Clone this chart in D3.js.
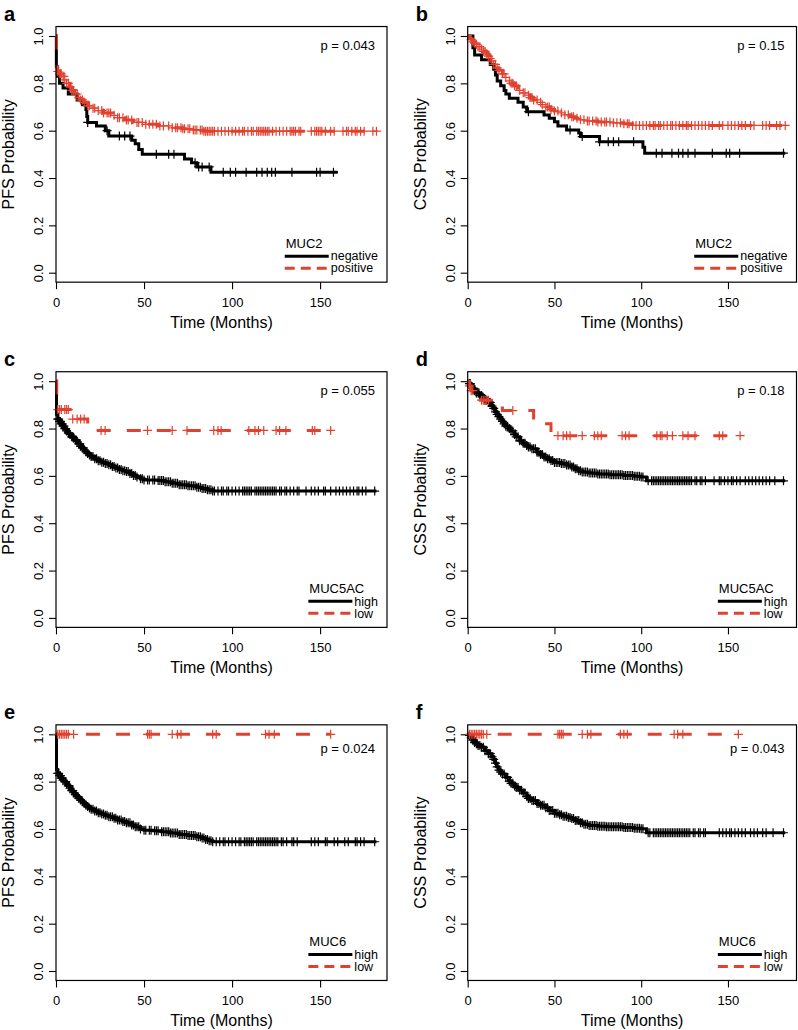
<!DOCTYPE html>
<html>
<head>
<meta charset="utf-8">
<script src="https://cdn.jsdelivr.net/npm/d3@7"></script>
<style>
  body { margin: 0; background: #fff; }
  svg text { font-family: "Liberation Sans", Arial, sans-serif; fill: #000; }
</style>
</head>
<body>
<div id="chart"></div>
<script>
// Data: KM steps as [month, survival], censor marks as months
var panelLabels = ["a", "b", "c", "d", "e", "f"];
var yTitles = ["PFS Probability", "CSS Probability", "PFS Probability", "CSS Probability", "PFS Probability", "CSS Probability"];
var markerNames = ["MUC2", "MUC2", "MUC5AC", "MUC5AC", "MUC6", "MUC6"];
var groupNames = [["negative", "positive"], ["negative", "positive"], ["high", "low"], ["high", "low"], ["high", "low"], ["high", "low"]];
var pValues = ["p = 0.043", "p = 0.15", "p = 0.055", "p = 0.18", "p = 0.024", "p = 0.043"];
var xTicks = [0, 50, 100, 150];
var yTicks = [0, 0.2, 0.4, 0.6, 0.8, 1.0];

// a: PFS by MUC2
var aBlack = [[0,1],[0.2,0.87],[0.8,0.83],[2,0.80],[4,0.78],[7,0.755],[12,0.73],[15,0.71],[17,0.69],[17.5,0.66],[18,0.635],[23,0.62],[28,0.60],[30,0.577],[43,0.56],[45,0.545],[47,0.52],[49,0.50],[73,0.48],[77,0.465],[80,0.447],[88,0.424],[160,0.424]];
var aBlackCens = [18,29,36,39,42,57,64,67,79,81,83,87,95,99,102,108,114,117,120,122.5,124.6,134,148,150,157.6];
var aRed = [[0,1],[0.3,0.87],[1,0.85],[2,0.84],[4,0.83],[5,0.815],[6,0.80],[8,0.785],[9,0.77],[11,0.755],[13,0.74],[14,0.73],[16,0.72],[18,0.705],[20,0.695],[23,0.685],[27,0.675],[32,0.665],[35,0.655],[39,0.645],[44,0.635],[50,0.627],[58,0.62],[65,0.612],[72,0.608],[78,0.603],[84,0.598],[182,0.598]];
var aRedCens = [1,2,2.5,3,4,4.5,5,6,7,8,9,10,11,12,13,14,15,16,18,19,21,22,24,26,27,29,30,31,33,35,36,38,40,41,43,46,47,49,51,53,55,57,59,61,64,66,68,69,71,72,73,75,76,78,79,80,82,83,84,85,86,87,88,89,90,92,94,96,98,100,102,104,106,107,109,111,112,114,115,116,117,118,119,120,121,123,125,127,129,131,133,134,135,136,138,139,145,147,148,149,150,151,153,156,158,163,165,166,168,170,171,173,175,180,182];

// b: CSS by MUC2
var bBlack = [[0,1],[3,0.95],[4,0.92],[8,0.90],[13,0.88],[15,0.86],[16,0.835],[17,0.81],[19,0.79],[21,0.77],[22,0.755],[24,0.737],[29,0.72],[32,0.70],[34,0.68],[44,0.666],[47,0.652],[50,0.638],[52,0.62],[57,0.603],[64,0.59],[65,0.575],[76,0.553],[101,0.53],[102,0.505],[183,0.505]];
var bBlackCens = [35,59,66,76,81,84,87,95.6,108.7,112,117.7,121.5,124,127,131,141,149,151,156.7,182];
var bRed = [[0,1],[1,0.99],[2,0.985],[3,0.975],[4,0.97],[5,0.965],[6,0.955],[8,0.945],[9,0.935],[11,0.925],[12,0.915],[13,0.905],[14,0.895],[15,0.88],[17,0.865],[18,0.855],[20,0.84],[22,0.825],[24,0.81],[25,0.80],[27,0.79],[29,0.78],[30,0.77],[32,0.76],[34,0.75],[36,0.74],[38,0.73],[41,0.72],[43,0.71],[45,0.70],[48,0.69],[50,0.683],[53,0.675],[56,0.667],[59,0.659],[62,0.652],[65,0.646],[68,0.641],[75,0.637],[84,0.633],[90,0.629],[95,0.622],[183,0.622]];
var bRedCens = [2,3,4,5,6,7,8,9,10,11,12,13,14,15,16,17,18,20,21,22,24,25,26,27,28,30,32,33,35,36,37,38,40,42,43,45,46,47,48,50,52,54,56,58,60,61,63,65,67,69,70,72,74,75,77,79,80,82,84,86,88,90,92,93,95,97,99,101,103,105,107,108,110,111,113,115,117,118,120,122,124,126,127,129,131,133,135,137,139,141,145,147,150,152,154,156,158,160,163,165,170,172,174,178,180,183];

// c: PFS by MUC5AC
var cBlack = [[0,1],[0.3,0.86],[1,0.84],[2,0.83],[3,0.82],[4,0.81],[5,0.80],[6,0.79],[7,0.78],[8,0.775],[9,0.765],[10,0.76],[11,0.752],[12,0.745],[13,0.735],[14,0.725],[15,0.718],[16,0.71],[17,0.702],[18,0.695],[19,0.688],[20,0.682],[22,0.672],[24,0.664],[26,0.658],[28,0.652],[30,0.647],[32,0.64],[34,0.633],[36,0.627],[38,0.622],[40,0.618],[42,0.61],[44,0.602],[46,0.595],[48,0.588],[50,0.583],[58,0.58],[62,0.575],[66,0.569],[70,0.563],[75,0.558],[80,0.552],[83,0.547],[86,0.541],[89,0.536],[182,0.536]];
var cBlackCens = [1,1.5,2,2.5,3,3.5,4,4.5,5,5.5,6,7,7.5,8,9,9.5,10,11,11.5,12,13,13.5,14,15,15.5,16,17,18,19,20,21,22,23,24,25,26,27,28,29,30,31,32,33,34,35,36,37,38,39,40,41,42,43,44,45,46,48,49,50,52,53,55,56,58,59,60,61,62,63,64,65,66,67,68,69,70,71,72,73,74,75,76,77,78,79,80,81,82,83,84,85,86,87,88,89,90,92,94,95,97,98,100,102,104,106,107,108,109,110,111,113,114,115,116,117,118,119,120,121,122,123,124,125,127,128,130,131,133,135,137,138,142,145,147,149,152,153,156,159,161,163,165,167,169,171,172,174,176,181];
var cRed = [[0,1],[0.4,0.88],[8,0.84],[18,0.792],[157,0.792]];
var cRedCens = [1,2,3,5,6,7,9.5,12,14,16,25.6,27.9,52,66,74.4,89.6,92,93.8,109.5,113,115,118,125,127,130.6,145.6,147,156];

// d: CSS by MUC5AC
var dBlack = [[0,1],[1,0.99],[2,0.98],[3,0.97],[4,0.96],[5,0.95],[7,0.94],[9,0.93],[10,0.92],[12,0.91],[14,0.895],[15,0.885],[16,0.87],[17,0.86],[18,0.85],[19,0.84],[20,0.83],[21,0.82],[22,0.81],[24,0.80],[25,0.79],[27,0.775],[28,0.765],[30,0.748],[32,0.738],[34,0.728],[35,0.722],[37,0.715],[40,0.70],[42,0.69],[44,0.68],[46,0.672],[48,0.665],[50,0.657],[54,0.652],[57,0.646],[60,0.638],[62,0.63],[64,0.622],[66,0.616],[70,0.612],[75,0.608],[82,0.605],[90,0.602],[96,0.598],[100,0.595],[103,0.579],[183,0.579]];
var dBlackCens = [1,1.5,2,3,3.5,4,5,6,6.5,7,8,9,10,11,12,12.5,13,14,15,16,17,18,19,20,21,22,23,24,25,26,27,28,29,30,31,32,33,34,35,36,37,38,39,40,41,42,43,44,45,46,47,48,49,50,51,52,53,54,55,56,57,58,59,60,61,62,63,64,65,66,67,68,69,70,71,72,73,74,75,76,77,78,79,80,81,82,83,84,85,86,87,88,89,90,91,92,93,94,95,96,97,98,99,100,101,104,106,107,108,109,110,111,112,113,114,115,116,117,118,119,120,121,122,123,124,125,126,127,128,129,131,132,134,135,137,142,145,146,148,150,152,153,155,157,160,162,164,166,168,170,172,174,177,182];
var dRed = [[0,1],[1,0.98],[2,0.96],[5,0.92],[20,0.876],[38,0.845],[44,0.82],[48,0.77],[157,0.77]];
var dRedCens = [1,2,3,8,9,10,11,12,26,52,55,57,59,66,73,75,77,89,91,93,109,111,112,115,118,124,127,131,145,147,157];

// e: PFS by MUC6
var eBlack = [[0,1],[0.3,0.85],[1,0.835],[2,0.825],[3,0.815],[4,0.806],[5,0.80],[6,0.79],[7,0.782],[8,0.772],[9,0.762],[10,0.753],[11,0.745],[12,0.737],[13,0.729],[14,0.722],[15,0.715],[16,0.708],[17,0.701],[18,0.695],[19,0.689],[20,0.683],[22,0.676],[24,0.669],[26,0.663],[28,0.658],[30,0.652],[33,0.645],[35,0.638],[38,0.632],[40,0.626],[43,0.617],[45,0.609],[48,0.60],[50,0.595],[55,0.592],[60,0.588],[65,0.583],[70,0.577],[75,0.572],[80,0.567],[83,0.562],[85,0.556],[87,0.55],[89,0.546],[182,0.546]];
var eBlackCens = [1,1.5,2,2.5,3,3.5,4,5,5.5,6,7,7.5,8,9,9.5,10,11,12,12.5,13,14,15,16,17,18,19,20,21,22,23,24,25,26,27,28,29,30,31,32,33,34,35,36,37,38,39,40,41,42,43,44,45,46,47,48,50,51,53,54,56,57,58,60,61,62,63,64,65,66,67,68,69,70,71,72,73,74,75,76,77,78,79,80,81,82,83,84,85,86,87,88,89,91,93,95,96,98,100,102,104,105,107,108,109,110,111,112,114,115,116,117,118,119,120,121,122,123,124,125,126,128,129,131,134,135,137,145,147,149,153,154,158,160,164,166,170,171,173,175,181];
var eRed = [[0,1],[156,1]];
var eRedCens = [1,2,3,4,5,6,7,10,52,53,54,66,69,71,89,91,119,121,124,156];

// f: CSS by MUC6
var fBlack = [[0,1],[1,0.995],[2,0.985],[3,0.975],[4,0.965],[5,0.96],[6,0.953],[8,0.945],[10,0.93],[12,0.918],[14,0.905],[15,0.894],[16,0.878],[17,0.862],[18,0.849],[19,0.84],[20,0.832],[22,0.818],[24,0.802],[25,0.793],[27,0.782],[28,0.775],[30,0.764],[32,0.752],[34,0.738],[35,0.729],[37,0.72],[40,0.708],[42,0.70],[45,0.69],[47,0.678],[50,0.666],[53,0.66],[55,0.654],[58,0.648],[60,0.644],[62,0.636],[65,0.626],[67,0.62],[70,0.615],[75,0.612],[80,0.609],[90,0.606],[96,0.603],[100,0.601],[103,0.584],[183,0.584]];
var fBlackCens = [1,2,2.5,3,4,5,5.5,6,7,8,9,10,11,12,13,14,15,16,17,18,19,20,21,22,23,24,25,26,27,28,29,30,31,32,33,34,35,36,37,38,39,40,41,42,43,44,45,46,47,48,49,50,51,52,53,54,55,56,57,58,59,60,61,62,63,64,65,66,67,68,69,70,71,72,73,74,75,76,77,78,79,80,81,82,83,84,85,86,87,88,89,90,91,92,93,94,95,96,97,98,99,100,101,104,105,107,108,109,110,111,112,113,114,115,116,117,118,119,120,121,122,123,124,125,126,127,128,130,131,133,134,136,137,145,147,149,151,152,154,156,158,160,163,165,167,170,172,176,182];
var fRed = [[0,1],[156,1]];
var fRedCens = [1,2,3,4,5,6,7,8,9,11,52,53,54,55,66,69,71,88,90,92,119,121,124,156];

var blackCurves = [aBlack, bBlack, cBlack, dBlack, eBlack, fBlack];
var blackCensors = [aBlackCens, bBlackCens, cBlackCens, dBlackCens, eBlackCens, fBlackCens];
var redCurves = [aRed, bRed, cRed, dRed, eRed, fRed];
var redCensors = [aRedCens, bRedCens, cRedCens, dRedCens, eRedCens, fRedCens];

// Layout
var svgWidth = 798;
var svgHeight = 1030;
var cols = [
  {left: 56, right: 387, xMax: 188},
  {left: 467.7, right: 796.5, xMax: 189.5}
];
var rows = [
  {y1: 36, y0: 272.7, pOff: 23},
  {y1: 381.2, y0: 617.9, pOff: 23},
  {y1: 734.3, y0: 971, pOff: 28}
];
var redColor = "#e2412f";

var svg = d3.select("#chart")
  .append("svg")
  .attr("width", svgWidth)
  .attr("height", svgHeight);

function survAt(steps, t) {
  var s = steps[0][1];
  steps.forEach(function(p) { if (p[0] <= t) s = p[1]; });
  return s;
}

var plus = "M-4.5,0H4.5M0,-4.5V4.5";

panelLabels.forEach(function(label, i) {
  var col = cols[i % 2];
  var row = rows[Math.floor(i / 2)];
  var unit = row.y0 - row.y1;
  var top = row.y1 - 0.04 * unit;
  var bottom = row.y0 + 0.04 * unit;

  var x = d3.scaleLinear().domain([0, col.xMax]).range([col.left, col.right]);
  var y = d3.scaleLinear().domain([-0.04, 1.04]).range([bottom, top]);

  var g = svg.append("g");

  // axes (ticks only, the box is the axis line)
  var xAxis = g.append("g")
    .attr("transform", `translate(0, ${bottom})`)
    .call(d3.axisBottom(x).tickValues(xTicks).tickSize(7));
  xAxis.select(".domain").remove();
  xAxis.selectAll("line").attr("stroke-width", 1.1);
  xAxis.selectAll("text")
    .attr("y", 25).attr("dy", null)
    .attr("font-size", "13px")
    .attr("font-family", "Liberation Sans, Arial, sans-serif");

  var yAxis = g.append("g")
    .attr("transform", `translate(${col.left}, 0)`)
    .call(d3.axisLeft(y).tickValues(yTicks).tickSize(7).tickFormat(d3.format(".1f")));
  yAxis.select(".domain").remove();
  yAxis.selectAll("line").attr("stroke-width", 1.1);
  yAxis.selectAll("text")
    .attr("transform", "rotate(-90)")
    .attr("x", 0).attr("y", -13).attr("dy", null)
    .attr("text-anchor", "middle")
    .attr("font-size", "13px")
    .attr("font-family", "Liberation Sans, Arial, sans-serif");

  // curves
  var line = d3.line()
    .x(d => x(d[0]))
    .y(d => y(d[1]))
    .curve(d3.curveStepAfter);

  g.append("path")
    .datum(blackCurves[i])
    .attr("d", line)
    .attr("fill", "none")
    .attr("stroke", "#000")
    .attr("stroke-width", 3);

  g.append("g").selectAll("path")
    .data(blackCensors[i])
    .enter()
    .append("path")
    .attr("d", plus)
    .attr("transform", d => `translate(${x(d)}, ${y(survAt(blackCurves[i], d))})`)
    .attr("stroke", "#000")
    .attr("stroke-width", 1.2)
    .attr("fill", "none");

  g.append("path")
    .datum(redCurves[i])
    .attr("d", line)
    .attr("fill", "none")
    .attr("stroke", redColor)
    .attr("stroke-width", 3)
    .attr("stroke-dasharray", "14,16");

  g.append("g").selectAll("path")
    .data(redCensors[i])
    .enter()
    .append("path")
    .attr("d", plus)
    .attr("transform", d => `translate(${x(d)}, ${y(survAt(redCurves[i], d))})`)
    .attr("stroke", redColor)
    .attr("stroke-width", 1.2)
    .attr("fill", "none");

  // plot box
  g.append("rect")
    .attr("x", col.left).attr("y", top)
    .attr("width", col.right - col.left)
    .attr("height", bottom - top)
    .attr("fill", "none")
    .attr("stroke", "#000")
    .attr("stroke-width", 1.2);

  // axis titles
  g.append("text")
    .attr("transform", `translate(${col.left - 42}, ${(top + bottom) / 2}) rotate(-90)`)
    .attr("text-anchor", "middle")
    .attr("font-size", "16px")
    .text(yTitles[i]);

  g.append("text")
    .attr("x", (col.left + col.right) / 2)
    .attr("y", bottom + 46)
    .attr("text-anchor", "middle")
    .attr("font-size", "16px")
    .text("Time (Months)");

  // panel letter
  g.append("text")
    .attr("x", col.left - 52)
    .attr("y", top - 6)
    .attr("font-size", "20px")
    .attr("font-weight", "bold")
    .text(label);

  // p value
  g.append("text")
    .attr("x", col.right - 12)
    .attr("y", top + row.pOff)
    .attr("text-anchor", "end")
    .attr("font-size", "13px")
    .text(pValues[i]);

  // legend: title, then one row per group (tight spacing as in the source)
  var textRight = col.right - 9;
  var rowY = [bottom - 26, bottom - 14];
  var names = groupNames[i];
  var legTexts = names.map(function(n, k) {
    return g.append("text")
      .attr("x", textRight)
      .attr("y", rowY[k] + 4.3)
      .attr("text-anchor", "end")
      .attr("font-size", "12.5px")
      .text(n);
  });
  var tw = d3.max(legTexts, t => t.node().getComputedTextLength());
  legTexts.forEach(function(t) {
    t.attr("text-anchor", "start").attr("x", textRight - tw);
  });
  var segEnd = textRight - tw - 2;
  var segStart = segEnd - 44;
  g.append("line")
    .attr("x1", segStart).attr("x2", segEnd)
    .attr("y1", rowY[0]).attr("y2", rowY[0])
    .attr("stroke", "#000").attr("stroke-width", 3);
  g.append("line")
    .attr("x1", segStart).attr("x2", segEnd)
    .attr("y1", rowY[1]).attr("y2", rowY[1])
    .attr("stroke", redColor).attr("stroke-width", 3)
    .attr("stroke-dasharray", "10,6");
  g.append("text")
    .attr("x", segStart + 1)
    .attr("y", bottom - 39 + 4.5)
    .attr("font-size", "13px")
    .text(markerNames[i]);
});
</script>
</body>
</html>
